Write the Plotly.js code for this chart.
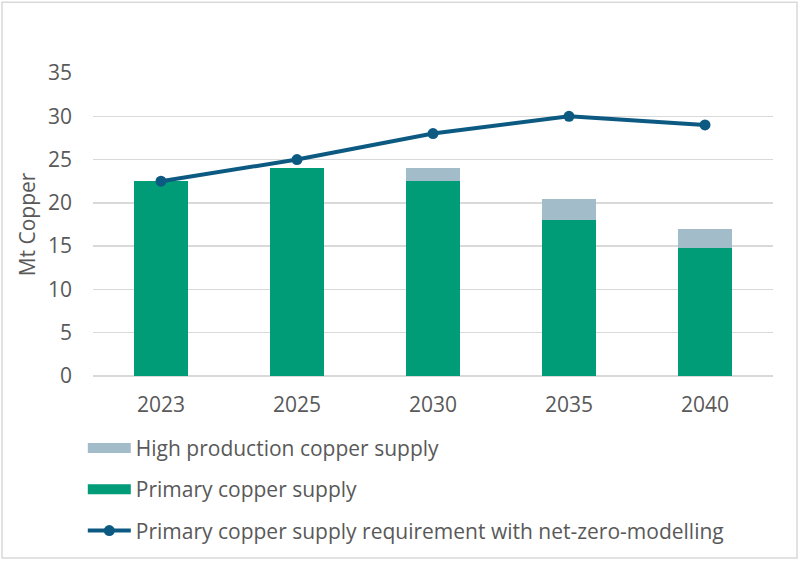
<!DOCTYPE html>
<html>
<head>
<meta charset="utf-8">
<script src="https://cdn.plot.ly/plotly-3.0.1.min.js"></script>
<style>
  html, body { margin: 0; padding: 0; background: #fff; }
  #chart { width: 800px; height: 562px; }
</style>
</head>
<body>
<div id="chart"></div>
<script>
const years = ["2023", "2025", "2030", "2035", "2040"];
const primarySupply = [22.5, 24, 22.5, 18, 14.8];
const highProductionExtra = [0, 0, 1.5, 2.5, 2.2];
const netZeroRequirement = [22.5, 25, 28, 30, 29];
const yTicks = [0, 5, 10, 15, 20, 25, 30, 35];

const textColor = "#595959";
const fontFamily = "'Open Sans', 'Noto Sans', sans-serif";
const green = "#009B77";
const grey = "#A2BCCA";
const blue = "#0C5A82";

const traces = [
  {
    type: "bar", name: "Primary copper supply", x: years, y: primarySupply,
    marker: { color: green }, showlegend: false, hoverinfo: "skip"
  },
  {
    type: "bar", name: "High production copper supply", x: years, y: highProductionExtra,
    marker: { color: grey }, showlegend: false, hoverinfo: "skip"
  },
  {
    type: "scatter", mode: "lines+markers",
    name: "Primary copper supply requirement with net-zero-modelling",
    x: years, y: netZeroRequirement,
    line: { color: blue, width: 4 },
    marker: { color: blue, size: 11 },
    legendrank: 3, legendgroup: "c", hoverinfo: "skip"
  },
  // legend-only entries drawn as wide swatches for the bar series
  {
    type: "scatter", mode: "lines", name: "High production copper supply",
    x: [null], y: [null], line: { color: grey, width: 11 },
    legendrank: 1, legendgroup: "a", hoverinfo: "skip"
  },
  {
    type: "scatter", mode: "lines", name: "Primary copper supply",
    x: [null], y: [null], line: { color: green, width: 11 },
    legendrank: 2, legendgroup: "b", hoverinfo: "skip"
  }
];

const layout = {
  width: 800, height: 562,
  margin: { l: 93, r: 27, t: 73, b: 185 },
  paper_bgcolor: "#fff", plot_bgcolor: "#fff",
  barmode: "stack", bargap: 0.61,
  font: { family: fontFamily, color: textColor, size: 21 },
  xaxis: {
    type: "category", showgrid: false, zeroline: false,
    showline: false, ticks: "",
    tickfont: { size: 21, color: textColor },
    ticklabelstandoff: 14
  },
  yaxis: {
    range: [0, 35], tickvals: yTicks, showgrid: true,
    gridcolor: "#D9D9D9", gridwidth: 1.3, zeroline: true, zerolinecolor: "#D9D9D9",
    zerolinewidth: 1.3, showline: false, ticks: "",
    tickfont: { size: 21, color: textColor },
    ticklabelstandoff: 20,
    title: { text: "Mt Copper", font: { size: 21, color: textColor }, standoff: 6 }
  },
  showlegend: true,
  legend: {
    orientation: "v", x: -0.015, xanchor: "left", y: -0.167, yanchor: "top",
    traceorder: "grouped", tracegroupgap: 11, itemwidth: 43,
    font: { size: 21, color: textColor },
    bgcolor: "rgba(0,0,0,0)"
  },
  shapes: [{
    type: "rect", xref: "paper", yref: "paper", layer: "below",
    x0: -0.1338, x1: 1.0353, y0: -0.6003, y1: 1.2336,
    line: { color: "#D9D9D9", width: 1.5 }, fillcolor: "rgba(0,0,0,0)"
  }]
};

Plotly.newPlot("chart", traces, layout, { displayModeBar: false, staticPlot: true });
</script>
</body>
</html>
